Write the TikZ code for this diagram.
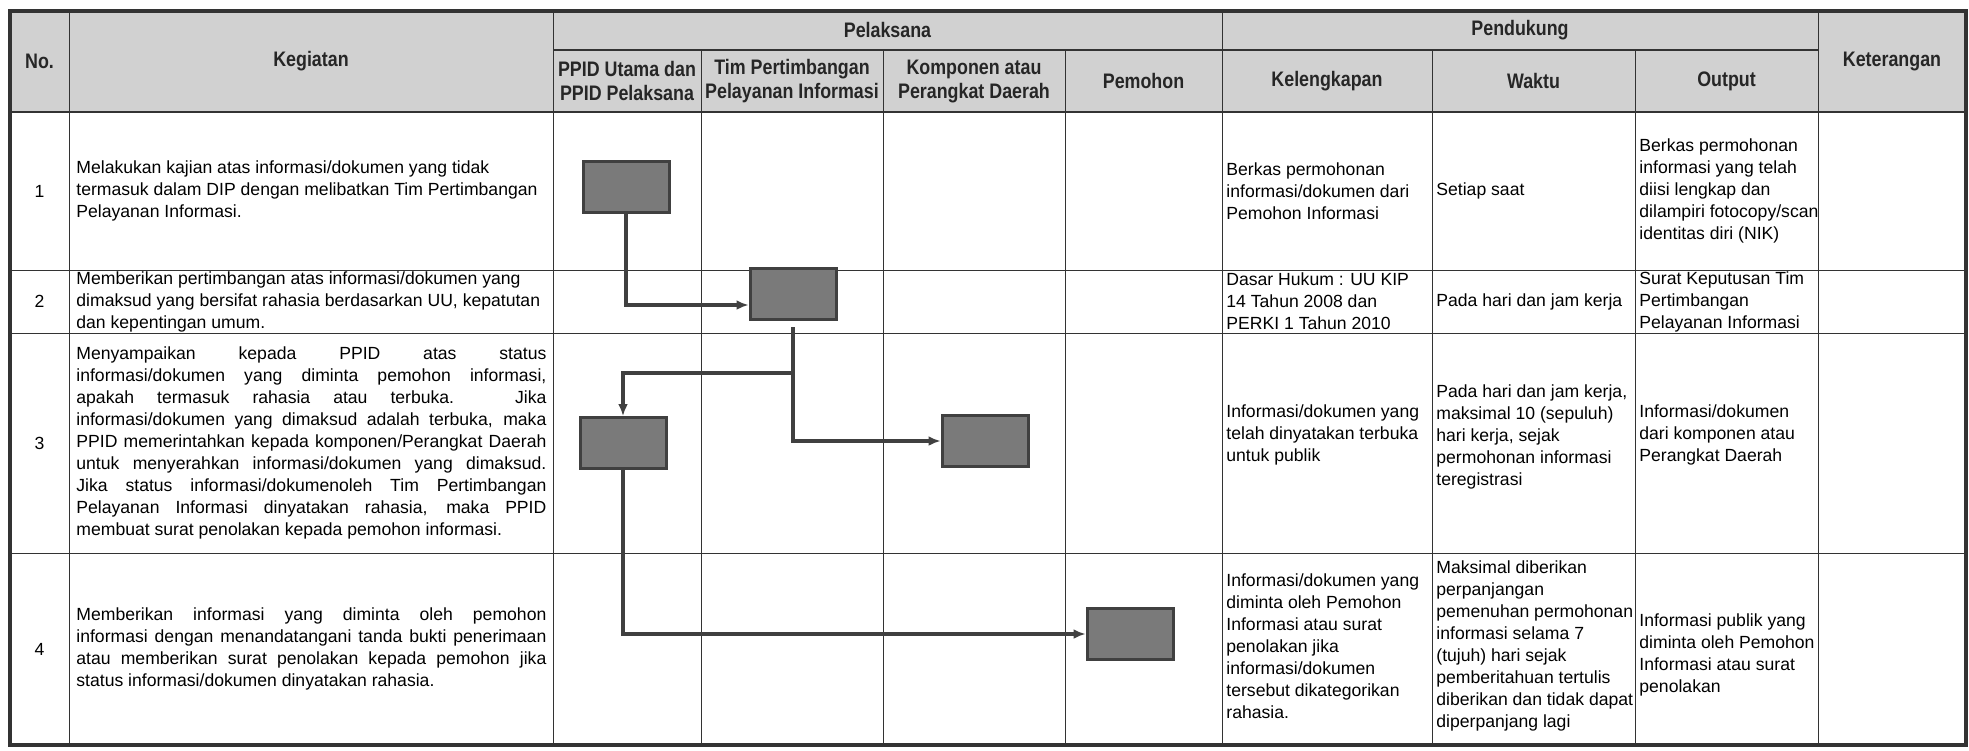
\documentclass[tikz,border=0pt]{standalone}
\usepackage{fontspec}
\setmainfont{Liberation Sans}
\newfontfamily\headfont[FakeStretch=0.85]{Liberation Sans}
\usepackage{xcolor}
\usetikzlibrary{arrows.meta}
\definecolor{headgray}{rgb}{0.82,0.82,0.82}
\definecolor{boxgray}{rgb}{0.48,0.48,0.48}
\definecolor{linegray}{rgb}{0.25,0.25,0.25}

\begin{document}
\begin{tikzpicture}[x=0.5pt,y=-0.5pt]
    \useasboundingbox (0,0) rectangle (1969,750);
    \hyphenpenalty=10000

    \tikzstyle{head}=[font=\headfont\bfseries\fontsize{10.5}{12}\selectfont,text=black!85,align=center,inner sep=0pt]
    \tikzstyle{txt}=[font=\fontsize{8.8}{11}\selectfont,align=left,inner xsep=1pt,inner ysep=0pt]
    \tikzstyle{para}=[txt,text width=235pt,align=justify,inner xsep=0pt]
    \tikzstyle{box}=[draw=linegray,fill=boxgray,line width=1.5pt,minimum width=43pt,minimum height=25.5pt,inner sep=0pt]
    \tikzstyle{thin}=[draw=black!80,line width=0.5pt]
    \tikzstyle{thick}=[draw=black!80,line width=1pt]

    % header background
    \fill[headgray] (10,11) rectangle (1966,112);

    % table lines
    \draw[thin] (69,11) -- (69,745);
    \draw[thin] (553,11) -- (553,745);
    \draw[thin] (1222,11) -- (1222,745);
    \draw[thin] (1818,11) -- (1818,745);
    \draw[thin] (701,50) -- (701,745);
    \draw[thin] (883,50) -- (883,745);
    \draw[thin] (1065,50) -- (1065,745);
    \draw[thin] (1432,50) -- (1432,745);
    \draw[thin] (1635,50) -- (1635,745);
    \draw[thick] (553,50) -- (1818,50);
    \draw[thick] (10,112) -- (1966,112);
    \draw[thin] (10,270) -- (1966,270);
    \draw[thin] (10,333) -- (1966,333);
    \draw[thin] (10,553) -- (1966,553);
    \draw[draw=black!80,line width=1.6pt] (10,11) rectangle (1966,745);

    % header
    \node[head] (no) at (39.5,61) {No.};
    \node[head] (kegiatan) at (311,61) {Kegiatan};
    \node[head] (pelaksana) at (887.5,30) {Pelaksana};
    \node[head] (pendukung) at (1520,30) {Pendukung};
    \node[head] (keterangan) at (1892,61) {Keterangan};
    \node[head] (ppid) at (627,81) {PPID Utama dan\\PPID Pelaksana};
    \node[head] (tim) at (792,81) {Tim Pertimbangan\\Pelayanan Informasi};
    \node[head] (komponen) at (974,81) {Komponen atau\\Perangkat Daerah};
    \node[head] (pemohon) at (1143.5,81) {Pemohon};
    \node[head] (kelengkapan) at (1327,81) {Kelengkapan};
    \node[head] (waktu) at (1533.5,81) {Waktu};
    \node[head] (output) at (1726.5,81) {Output};

    % row numbers
    \node[txt] (n1) at (39.5,191) {1};
    \node[txt] (n2) at (39.5,301.5) {2};
    \node[txt] (n3) at (39.5,443) {3};
    \node[txt] (n4) at (39.5,649) {4};

    % kegiatan
    \node[txt,anchor=west] (keg1) at (74,191) {Melakukan kajian atas informasi/dokumen yang tidak\\termasuk dalam DIP dengan melibatkan Tim Pertimbangan\\Pelayanan Informasi.};
    \node[txt,anchor=west] (keg2) at (74,301.5) {Memberikan pertimbangan atas informasi/dokumen yang\\dimaksud yang bersifat rahasia berdasarkan UU, kepatutan\\dan kepentingan umum.};
    \node[para,anchor=west] (keg3) at (76,443) {Menyampaikan kepada PPID atas status\linebreak informasi/dokumen yang diminta pemohon informasi,\linebreak apakah termasuk rahasia atau terbuka. Jika\linebreak informasi/dokumen yang dimaksud adalah terbuka, maka\linebreak PPID memerintahkan kepada komponen/Perangkat Daerah\linebreak untuk menyerahkan informasi/dokumen yang dimaksud.\linebreak Jika status informasi/dokumenoleh Tim Pertimbangan\linebreak Pelayanan Informasi dinyatakan rahasia, maka PPID\linebreak membuat surat penolakan kepada pemohon informasi.};
    \node[para,anchor=west] (keg4) at (76,649) {Memberikan informasi yang diminta oleh pemohon\linebreak informasi dengan menandatangani tanda bukti penerimaan\linebreak atau memberikan surat penolakan kepada pemohon jika\linebreak status informasi/dokumen dinyatakan rahasia.};

    % pendukung
    \node[txt,anchor=west] (lengkap1) at (1224,191) {Berkas permohonan\\informasi/dokumen dari\\Pemohon Informasi};
    \node[txt,anchor=west] (waktu1) at (1434,191) {Setiap saat};
    \node[txt,anchor=west] (output1) at (1637,191) {Berkas permohonan\\informasi yang telah\\diisi lengkap dan\\dilampiri fotocopy/scan\\identitas diri (NIK)};

    \node[txt,anchor=west] (lengkap2) at (1224,301.5) {Dasar Hukum : UU KIP\\14 Tahun 2008 dan\\PERKI 1 Tahun 2010};
    \node[txt,anchor=west] (waktu2) at (1434,301.5) {Pada hari dan jam kerja};
    \node[txt,anchor=west] (output2) at (1637,301.5) {Surat Keputusan Tim\\Pertimbangan\\Pelayanan Informasi};

    \node[txt,anchor=west] (lengkap3) at (1224,435) {Informasi/dokumen yang\\telah dinyatakan terbuka\\untuk publik};
    \node[txt,anchor=west] (waktu3) at (1434,437) {Pada hari dan jam kerja,\\maksimal 10 (sepuluh)\\hari kerja, sejak\\permohonan informasi\\teregistrasi};
    \node[txt,anchor=west] (output3) at (1637,435) {Informasi/dokumen\\dari komponen atau\\Perangkat Daerah};

    \node[txt,anchor=west] (lengkap4) at (1224,646) {Informasi/dokumen yang\\diminta oleh Pemohon\\Informasi atau surat\\penolakan jika\\informasi/dokumen\\tersebut dikategorikan\\rahasia.};
    \node[txt,anchor=west] (waktu4) at (1434,646) {Maksimal diberikan\\perpanjangan\\pemenuhan permohonan\\informasi selama 7\\(tujuh) hari sejak\\pemberitahuan tertulis\\diberikan dan tidak dapat\\diperpanjang lagi};
    \node[txt,anchor=west] (output4) at (1637,655) {Informasi publik yang\\diminta oleh Pemohon\\Informasi atau surat\\penolakan};

    % flow boxes
    \node[box] (boxA) at (626,187) {};
    \node[box] (boxB) at (793,294) {};
    \node[box] (boxC) at (623,443) {};
    \node[box] (boxD) at (985,441) {};
    \node[box] (boxE) at (1130,634) {};

    \coordinate (inB) at ([yshift=-5.5pt]boxB.west);
    \coordinate (split) at (793,373);

    \tikzstyle{stem} = [draw=linegray, line width=1.7pt]
    \tikzstyle{flow} = [stem, -{Latex[length=6pt,width=5pt]}]

          \draw [flow] (boxA.south) |- (inB);
          \draw [stem, shorten <=3pt] (boxB.south) -- (split);
          \draw [flow] (split) -| (boxC.north);
          \draw [flow] (split) |- (boxD.west);
          \draw [flow] (boxC.south) |- (boxE.west);

\end{tikzpicture}
\end{document}
